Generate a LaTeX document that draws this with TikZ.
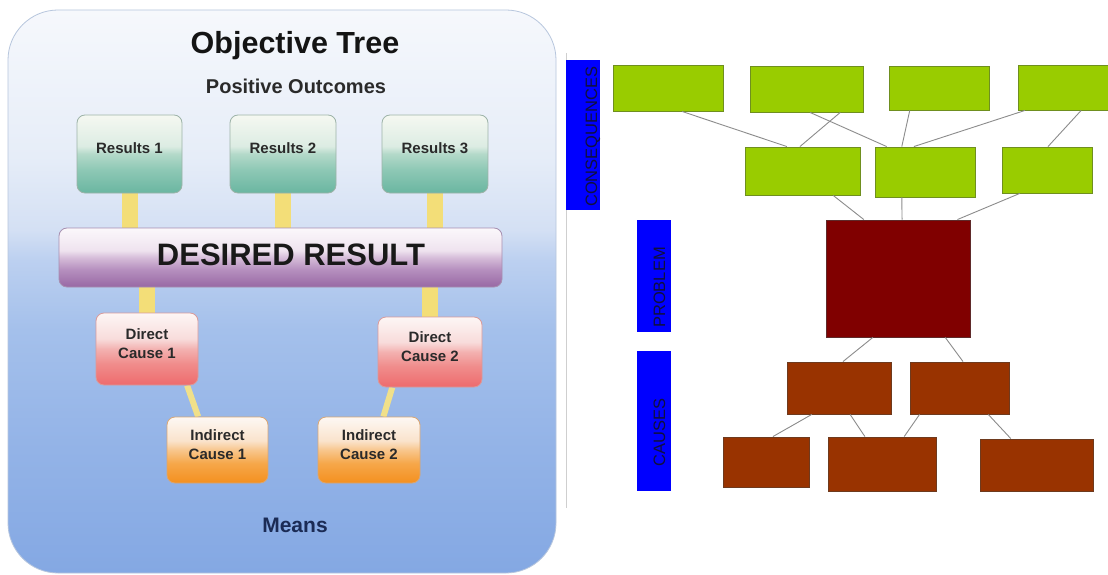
\documentclass[tikz,border=0pt]{standalone}
\usepackage{fontspec}
\setmainfont{Liberation Sans}
\usetikzlibrary{calc,fit}

% colours
\definecolor{panelEdge}{HTML}{B7C6DD}
\definecolor{ylw}{HTML}{F3DE78}
\definecolor{ylwDiag}{HTML}{F0E08A}
\definecolor{txtD}{HTML}{2A2A2A}
\definecolor{titleC}{HTML}{141414}
\definecolor{meansC}{HTML}{1B2B55}
\definecolor{resEdge}{HTML}{9DB3A8}
\definecolor{drEdge}{HTML}{A78FB0}
\definecolor{dcEdge}{HTML}{D99A9A}
\definecolor{icEdge}{HTML}{D9A673}
\definecolor{lime}{HTML}{99CC00}
\definecolor{limeEdge}{HTML}{6F8F1F}
\definecolor{maroon}{HTML}{800000}
\definecolor{maroonEdge}{HTML}{5E2A2A}
\definecolor{rust}{HTML}{993300}
\definecolor{rustEdge}{HTML}{6E3A1E}
\definecolor{barBlue}{HTML}{0000FF}
\definecolor{barText}{HTML}{10103E}
\definecolor{connGray}{HTML}{8C8C8C}
\definecolor{frameGray}{HTML}{CFCFCF}

% shading stops
\definecolor{pnA}{HTML}{84A8E3}\definecolor{pnB}{HTML}{93B3E7}
\definecolor{pnC}{HTML}{A4C0EB}\definecolor{pnD}{HTML}{BCD0F0}
\definecolor{pnE}{HTML}{D4E0F4}\definecolor{pnF}{HTML}{E6EDF8}\definecolor{pnG}{HTML}{F6F8FC}
\definecolor{rsA}{HTML}{6AB6A1}\definecolor{rsB}{HTML}{8EC8B5}\definecolor{rsC}{HTML}{B3D9C9}
\definecolor{rsD}{HTML}{DCECE3}\definecolor{rsE}{HTML}{F5F8F1}
\definecolor{drA}{HTML}{9868A4}\definecolor{drB}{HTML}{B690BF}\definecolor{drC}{HTML}{D6BDD9}
\definecolor{drD}{HTML}{EFE3EF}\definecolor{drE}{HTML}{FBF8FB}
\definecolor{dcA}{HTML}{EE6B6D}\definecolor{dcB}{HTML}{F08D8C}\definecolor{dcC}{HTML}{F3B1B0}
\definecolor{dcD}{HTML}{F8DCDB}\definecolor{dcE}{HTML}{FDF6F5}
\definecolor{icA}{HTML}{F4901F}\definecolor{icB}{HTML}{F6A74A}\definecolor{icC}{HTML}{F8C68C}
\definecolor{icD}{HTML}{FAE3CC}\definecolor{icE}{HTML}{FDF8F4}

% vertical shadings (25bp = bottom of the shape, 75bp = top)
\pgfdeclareverticalshading{panelshade}{100bp}{color(0bp)=(pnA); color(25bp)=(pnA); color(36bp)=(pnB); color(46.6bp)=(pnC); color(52.8bp)=(pnD); color(55.5bp)=(pnE); color(62bp)=(pnF); color(75bp)=(pnG); color(100bp)=(pnG)}
\pgfdeclareverticalshading{resshade}{100bp}{color(0bp)=(rsA); color(25bp)=(rsA); color(40bp)=(rsB); color(50bp)=(rsC); color(55bp)=(rsD); color(75bp)=(rsE); color(100bp)=(rsE)}
\pgfdeclareverticalshading{drshade}{100bp}{color(0bp)=(drA); color(25bp)=(drA); color(40bp)=(drB); color(50bp)=(drC); color(56bp)=(drD); color(75bp)=(drE); color(100bp)=(drE)}
\pgfdeclareverticalshading{dcshade}{100bp}{color(0bp)=(dcA); color(25bp)=(dcA); color(40bp)=(dcB); color(50bp)=(dcC); color(57bp)=(dcD); color(75bp)=(dcE); color(100bp)=(dcE)}
\pgfdeclareverticalshading{icshade}{100bp}{color(0bp)=(icA); color(25bp)=(icA); color(40bp)=(icB); color(50bp)=(icC); color(57bp)=(icD); color(75bp)=(icE); color(100bp)=(icE)}

\pgfdeclarelayer{back}
\pgfdeclarelayer{behind}
\pgfsetlayers{back,behind,main}

\tikzset{
  softbox/.style={rounded corners=8pt, shade, line width=0.8pt, inner sep=0pt,
    align=center, text=txtD, font=\fontsize{15}{19}\selectfont\bfseries},
  resbox/.style={softbox, shading=resshade, draw=resEdge},
  drbox/.style={softbox, shading=drshade, draw=drEdge},
  dcbox/.style={softbox, shading=dcshade, draw=dcEdge},
  icbox/.style={softbox, shading=icshade, draw=icEdge},
  ybar/.style={line width=16pt, draw=ylw},
  ydiag/.style={line width=6pt, draw=ylwDiag},
  flatbox/.style={rectangle, inner sep=0pt, line width=0.9pt},
  gbox/.style={flatbox, fill=lime, draw=limeEdge},
  pbox/.style={flatbox, fill=maroon, draw=maroonEdge},
  cbox/.style={flatbox, fill=rust, draw=rustEdge},
  bluebar/.style={flatbox, fill=barBlue},
  barlabel/.style={rotate=90, anchor=base west, inner sep=0pt, text=barText,
    font=\fontsize{16.5}{18}\selectfont},
  conn/.style={draw=connGray, line width=0.9pt},
}

\begin{document}
\begin{tikzpicture}[x=1pt,y=-1pt]
\useasboundingbox (0,0) rectangle (1108,575);

% ---------- objective tree panel ----------
\begin{pgfonlayer}{back}
  \fill[white] (0,0) rectangle (1108,575);
  \path[shade, shading=panelshade, rounded corners=50pt] (8,10) rectangle (556,573);
  \draw[panelEdge, line width=0.8pt, rounded corners=50pt] (8,10) rectangle (556,573);
\end{pgfonlayer}

\node[anchor=base, text=titleC, font=\fontsize{30.5}{36}\selectfont\bfseries] (title) at (295,54) {Objective Tree};
\node[anchor=base, text=txtD, font=\fontsize{20}{24}\selectfont\bfseries] (outcomes) at (296,94) {Positive Outcomes};

\node[resbox, fit={(77,115)(182,193)}] (R1) {Results 1};
\node[resbox, fit={(230,115)(336,193)}] (R2) {Results 2};
\node[resbox, fit={(382,115)(488,193)}] (R3) {Results 3};

\node[drbox, fit={(59,228)(502,287)}] (DR) {};
\node[anchor=base, text=black!90, font=\fontsize{31}{36}\selectfont\bfseries] (DRtext) at (291,265) {DESIRED RESULT};

\node[dcbox, fit={(96,313)(198,385)}] (D1) {Direct\\Cause 1};
\node[dcbox, fit={(378,317)(482,387)}] (D2) {Direct\\Cause 2};
\node[icbox, fit={(167,417)(268,483)}] (I1) {Indirect\\Cause 1};
\node[icbox, fit={(318,417)(420,483)}] (I2) {Indirect\\Cause 2};

\node[anchor=base, text=meansC, font=\fontsize{21}{24}\selectfont\bfseries] (means) at (295,532) {Means};

\begin{pgfonlayer}{behind}
  \draw[ybar] (R1.south) -- (R1.south |- DR.north);
  \draw[ybar] (R2.south) -- (R2.south |- DR.north);
  \draw[ybar] (R3.south) -- (R3.south |- DR.north);
  \draw[ybar] (D1.north |- DR.south) -- (D1.north);
  \draw[ybar] (D2.north |- DR.south) -- (D2.north);
  \draw[ydiag] ($(D1.south west)!0.89!(D1.south east)$) -- ($(I1.north west)!0.31!(I1.north east)$);
  \draw[ydiag] ($(D2.south west)!0.14!(D2.south east)$) -- ($(I2.north west)!0.64!(I2.north east)$);
\end{pgfonlayer}

% ---------- problem tree ----------
\draw[frameGray, line width=0.8pt] (566,53) -- (566,508);

\node[bluebar, fit={(566,60)(600,210)}] (conseqBar) {};
\node[bluebar, fit={(637,220)(671,332)}] (problemBar) {};
\node[bluebar, fit={(637,351)(671,491)}] (causesBar) {};
\node[barlabel] (conseqLbl) at (597,207) {CONSEQUENCES};
\node[barlabel] (problemLbl) at (665,328) {PROBLEM};
\node[barlabel] (causesLbl) at (665,467) {CAUSES};

% consequences
\node[gbox, fit={(613,65)(723,111)}] (A) {};
\node[gbox, fit={(750,66)(863,112)}] (B) {};
\node[gbox, fit={(889,66)(989,110)}] (C) {};
\node[gbox, fit={(1018,65)(1112,110)}] (D) {};
\node[gbox, fit={(745,147)(860,195)}] (E) {};
\node[gbox, fit={(875,147)(975,197)}] (F) {};
\node[gbox, fit={(1002,147)(1092,193)}] (G) {};

% problem
\node[pbox, fit={(826,220)(970,337)}] (P) {};

% causes
\node[cbox, fit={(787,362)(891,414)}] (H) {};
\node[cbox, fit={(910,362)(1009,414)}] (I) {};
\node[cbox, fit={(723,437)(809,487)}] (J) {};
\node[cbox, fit={(828,437)(936,491)}] (K) {};
\node[cbox, fit={(980,439)(1093,491)}] (L) {};

% connectors
\draw[conn] ($(A.south west)!0.627!(A.south east)$) -- ($(E.north west)!0.365!(E.north east)$);
\draw[conn] ($(B.south west)!0.796!(B.south east)$) -- ($(E.north west)!0.478!(E.north east)$);
\draw[conn] ($(B.south west)!0.531!(B.south east)$) -- ($(F.north west)!0.12!(F.north east)$);
\draw[conn] ($(C.south west)!0.21!(C.south east)$) -- ($(F.north west)!0.27!(F.north east)$);
\draw[conn] ($(D.south west)!0.078!(D.south east)$) -- ($(F.north west)!0.39!(F.north east)$);
\draw[conn] ($(D.south west)!0.67!(D.south east)$) -- ($(G.north west)!0.511!(G.north east)$);
\draw[conn] ($(E.south west)!0.765!(E.south east)$) -- ($(P.north west)!0.264!(P.north east)$);
\draw[conn] ($(F.south west)!0.27!(F.south east)$) -- ($(P.north west)!0.528!(P.north east)$);
\draw[conn] ($(G.south west)!0.2!(G.south east)$) -- ($(P.north west)!0.91!(P.north east)$);
\draw[conn] ($(P.south west)!0.326!(P.south east)$) -- ($(H.north west)!0.538!(H.north east)$);
\draw[conn] ($(P.south west)!0.826!(P.south east)$) -- ($(I.north west)!0.535!(I.north east)$);
\draw[conn] ($(H.south west)!0.24!(H.south east)$) -- ($(J.north west)!0.58!(J.north east)$);
\draw[conn] ($(H.south west)!0.606!(H.south east)$) -- ($(K.north west)!0.343!(K.north east)$);
\draw[conn] ($(I.south west)!0.1!(I.south east)$) -- ($(K.north west)!0.704!(K.north east)$);
\draw[conn] ($(I.south west)!0.788!(I.south east)$) -- ($(L.north west)!0.274!(L.north east)$);
\end{tikzpicture}
\end{document}
